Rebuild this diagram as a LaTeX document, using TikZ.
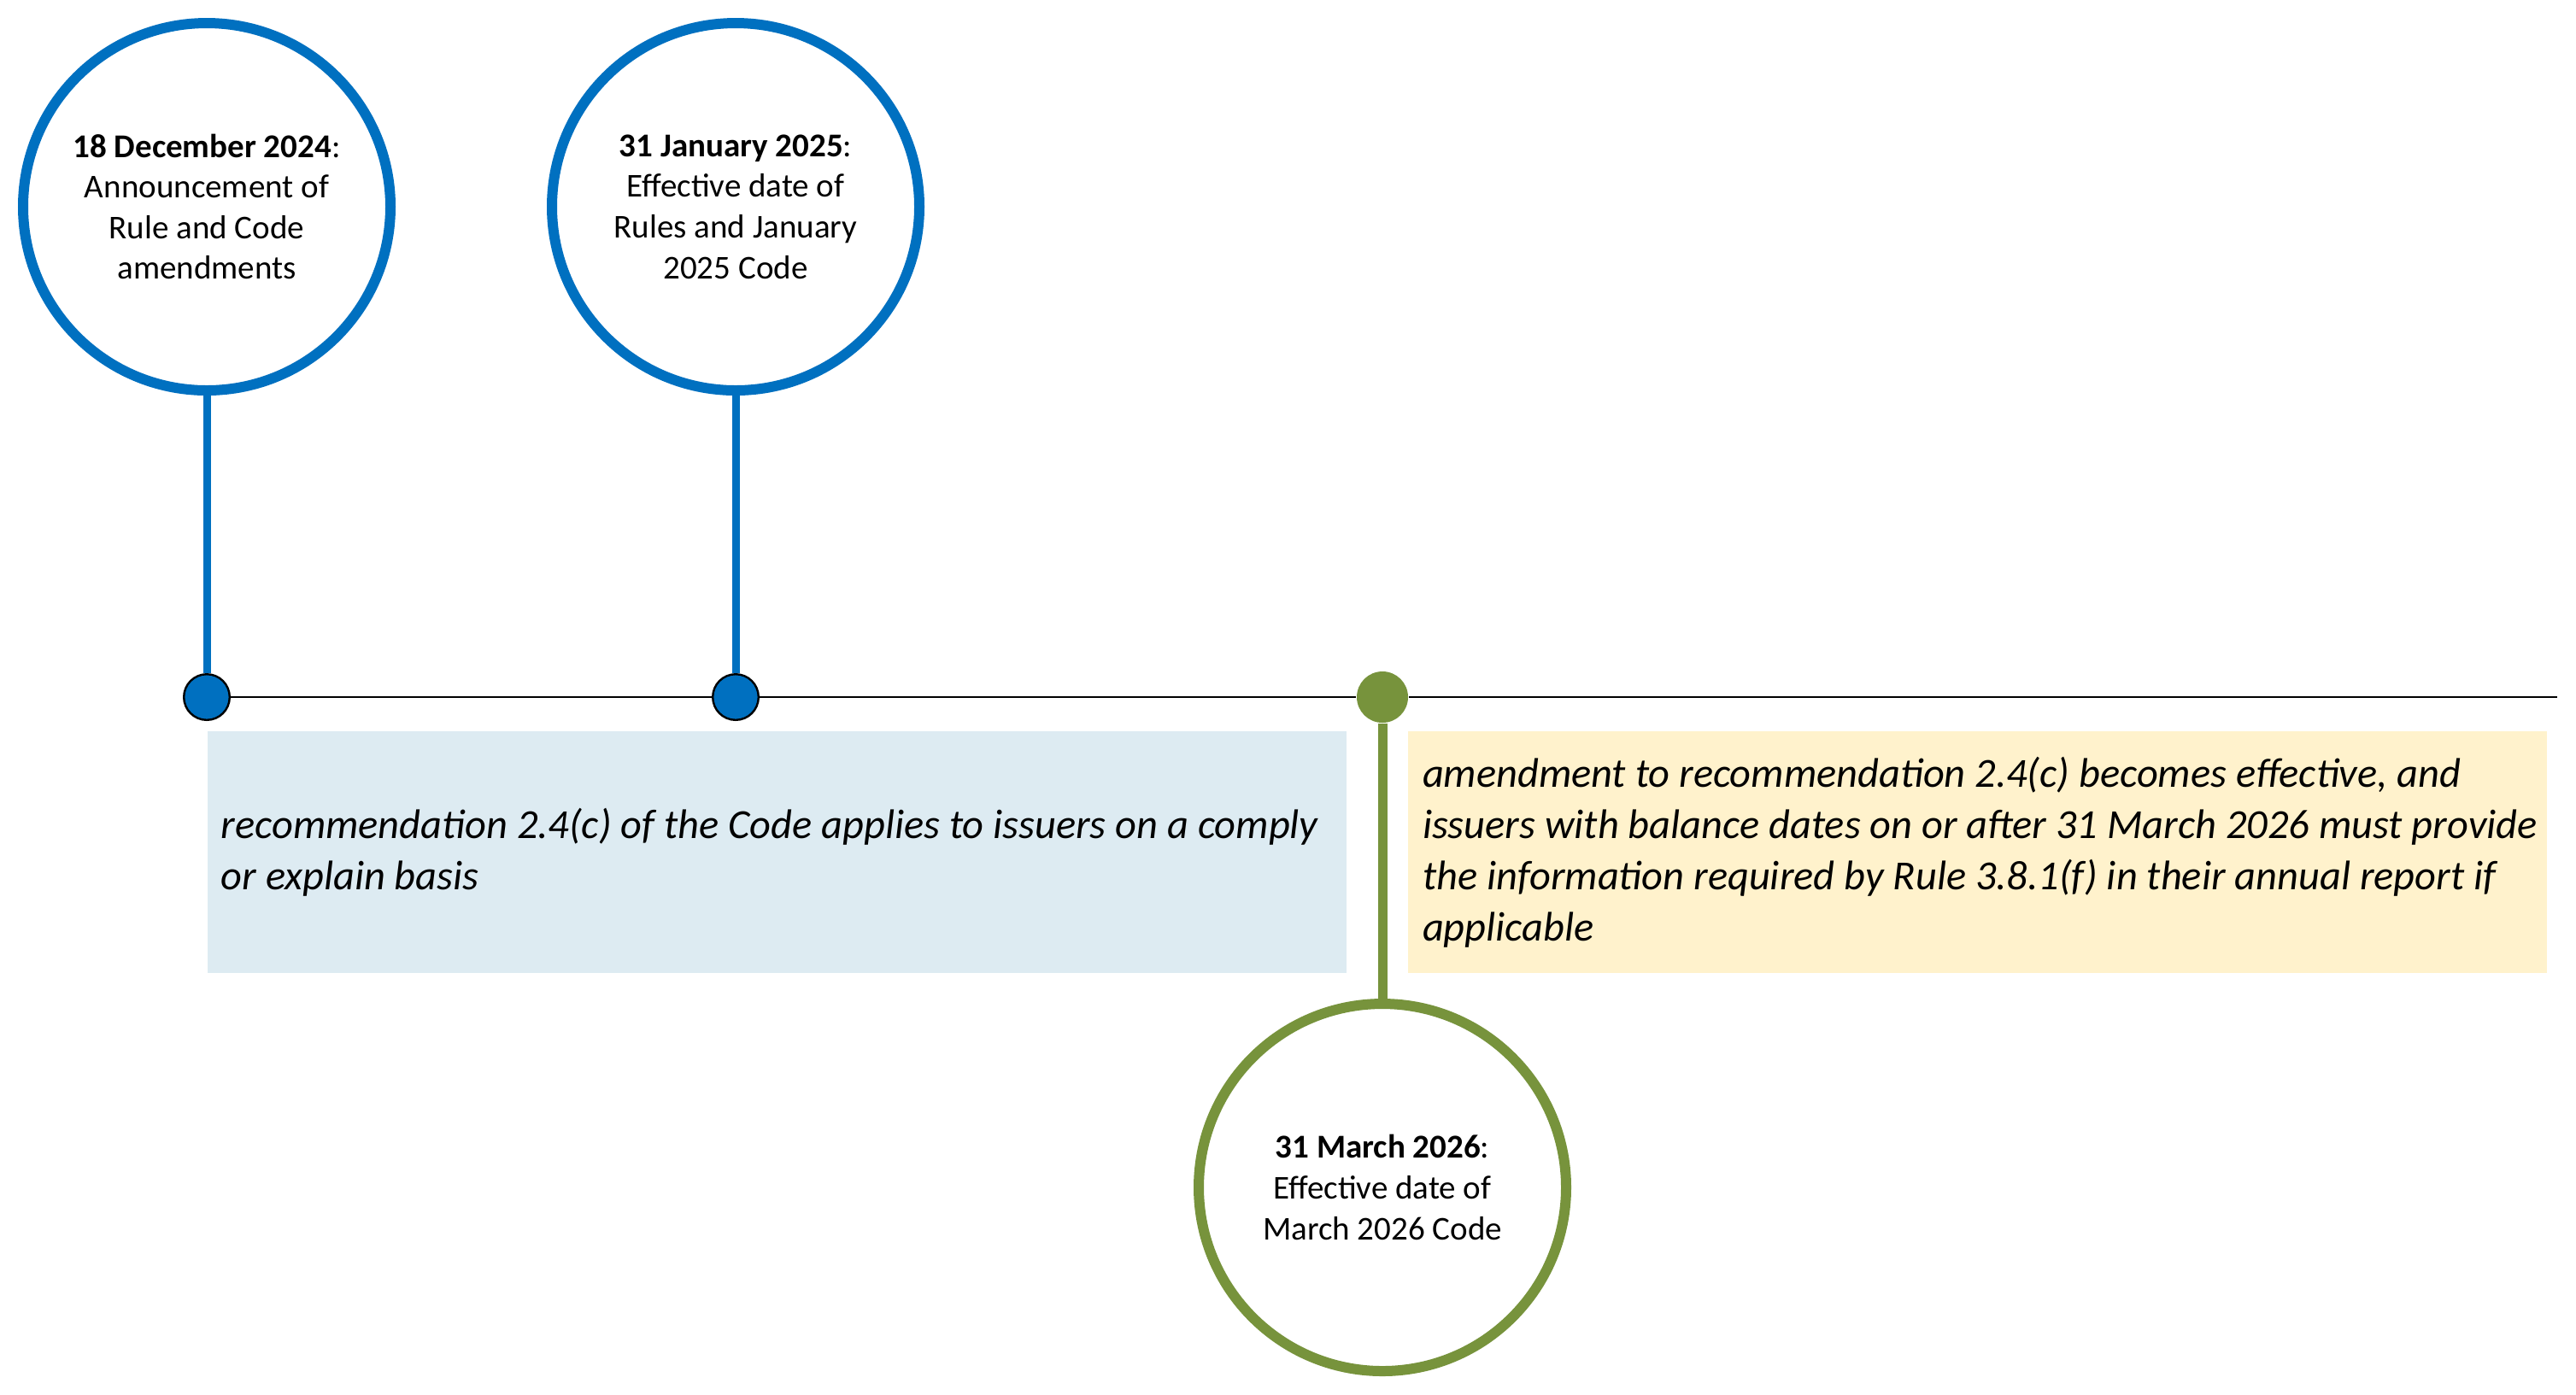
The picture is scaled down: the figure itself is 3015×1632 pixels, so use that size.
\documentclass[tikz,border=0pt]{standalone}
\usepackage{fontspec}
\setmainfont{Carlito}
\definecolor{tlblue}{HTML}{0070C0}
\definecolor{tlgreen}{HTML}{77933C}
\definecolor{boxblue}{HTML}{DDEBF2}
\definecolor{boxyellow}{HTML}{FFF2CC}
\begin{document}
\begin{tikzpicture}[x=0.25pt,y=-0.25pt,
  event/.style={circle, draw, line width=3pt, fill=white, minimum size=107.5pt,
    inner sep=0pt, align=center, font=\fontsize{9.75}{11.9}\selectfont},
  bluedot/.style={circle, draw=black, line width=0.6pt, fill=tlblue, minimum size=13.4pt, inner sep=0pt},
  greendot/.style={circle, fill=tlgreen, minimum size=15pt, inner sep=0pt},
  notebox/.style={rectangle, anchor=north west, inner sep=0pt,
    minimum height=70.75pt, minimum width=333.25pt},
  notetext/.style={anchor=west, inner sep=0pt, align=left,
    font=\fontsize{12.1}{15}\selectfont\itshape},
  stem/.style={line width=2.25pt, tlblue},
  gstem/.style={line width=2.75pt, tlgreen},
  axis/.style={line width=0.7pt, black}
]
\useasboundingbox (0,0) rectangle (3015,1632);

% boxes
\node[notebox, fill=boxblue] (nb) at (242,855) {};
\node[notebox, fill=boxyellow] (ny) at (1647,855) {};
\node[notetext] (tb) at ([xshift=4pt]nb.west)
  {recommendation 2.4(c) of the Code applies to issuers on a comply\\or explain basis};
\node[notetext] (ty) at ([xshift=4.3pt]ny.west)
  {amendment to recommendation 2.4(c) becomes effective, and\\issuers with balance dates on or after 31 March 2026 must provide\\the information required by Rule 3.8.1(f) in their annual report if\\applicable};

% event circles
\node[event, draw=tlblue] (c1) at (242,242)
  {\textbf{18 December 2024}:\\Announcement of\\Rule and Code\\amendments};
\node[event, draw=tlblue] (c2) at (861,242)
  {\textbf{31 January 2025}:\\Effective date of\\Rules and January\\2025 Code};
\node[event, draw=tlgreen] (c3) at (1618,1390)
  {\textbf{31 March 2026}:\\Effective date of\\March 2026 Code};

% dots on the timeline
\node[bluedot] (d1) at (242,816) {};
\node[bluedot] (d2) at (861,816) {};
\node[greendot] (d3) at (1618,816) {};
\coordinate (tend) at (2993,816);

% timeline
\draw[axis] (d1.east) -- (d2.west);
\draw[axis] (d2.east) -- (d3.west);
\draw[axis] (d3.east) -- (tend);

% stems
\draw[stem] (c1.south) -- (d1.north);
\draw[stem] (c2.south) -- (d2.north);
\draw[gstem] (d3.south) -- (c3.north);
\end{tikzpicture}
\end{document}
